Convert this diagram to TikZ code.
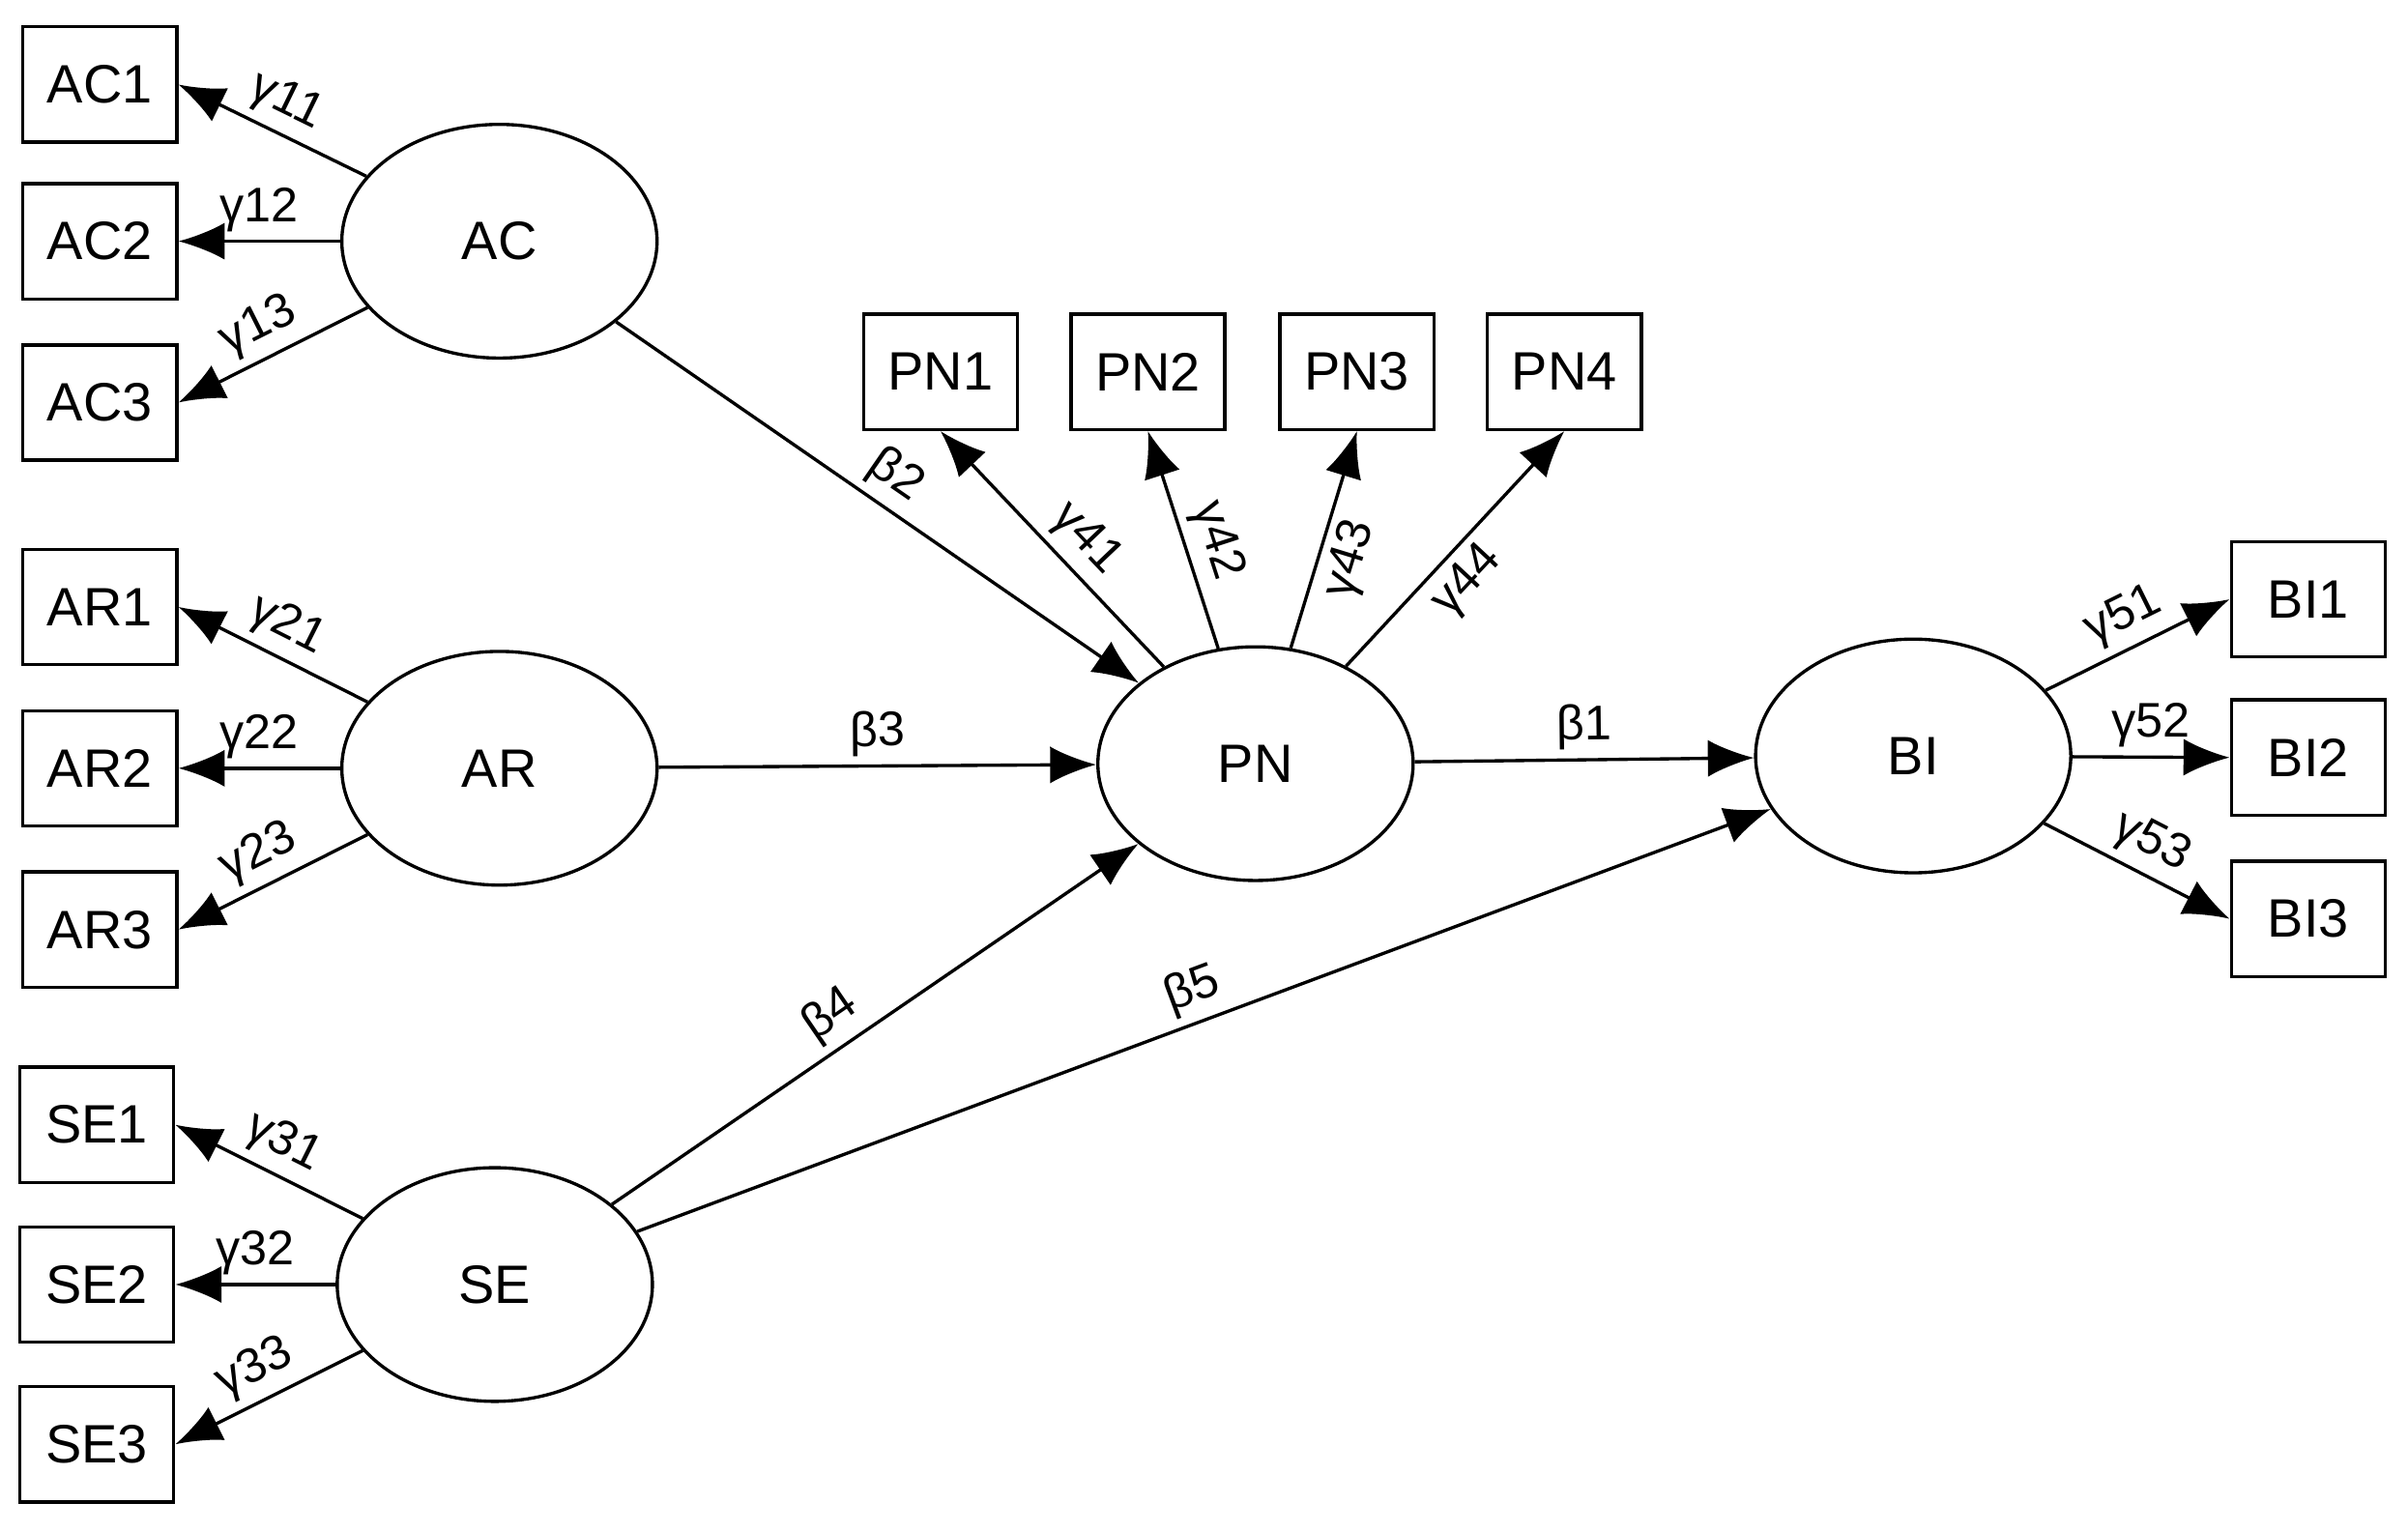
\documentclass[tikz,border=0pt]{standalone}
\usepackage{fontspec}
\setmainfont{Liberation Sans}
\usetikzlibrary{arrows.meta,shapes.geometric}
\begin{document}
\begin{tikzpicture}[x=0.01cm,y=-0.01cm,
  obs/.style={draw,semithick,minimum width=1cm,minimum height=0.75cm,inner sep=0pt,font=\normalsize},
  lat/.style={draw,semithick,ellipse,minimum width=2.05cm,minimum height=1.52cm,inner sep=0pt,font=\normalsize},
  arr/.style={semithick,-{Latex[length=3mm,width=2.4mm]}},
  lbl/.style={font=\small,sloped,inner sep=1.5pt}]
  \useasboundingbox (0,0) rectangle (1567,997);
  % latent variables
  \node[lat] (AC) at (325,157) {AC};
  \node[lat] (AR) at (325,500) {AR};
  \node[lat] (SE) at (322,836) {SE};
  \node[lat] (PN) at (817,497) {PN};
  \node[lat] (BI) at (1245,492) {BI};
  % indicators
  \foreach \n/\y in {1/55,2/157,3/262} \node[obs] (AC\n) at (65,\y) {AC\n};
  \foreach \n/\y in {1/395,2/500,3/605} \node[obs] (AR\n) at (65,\y) {AR\n};
  \foreach \n/\y in {1/732,2/836,3/940} \node[obs] (SE\n) at (63,\y) {SE\n};
  \foreach \n/\x in {1/612,2/747,3/883,4/1018} \node[obs] (PN\n) at (\x,242) {PN\n};
  \foreach \n/\y in {1/390,2/493,3/598} \node[obs] (BI\n) at (1502,\y) {BI\n};
  % loadings
  \foreach \v/\k in {AC/1,AR/2,SE/3} {
    \draw[arr] (\v) -- (\v1.east) node[lbl,pos=0.5,above] {γ\k1};
    \draw[arr] (\v) -- (\v2.east) node[lbl,pos=0.5,above] {γ\k2};
    \draw[arr] (\v) -- (\v3.east) node[lbl,pos=0.5,above] {γ\k3};
  }
  \draw[arr] (PN) -- (PN1.south) node[lbl,pos=0.45,above] {γ41};
  \draw[arr] (PN) -- (PN2.south) node[lbl,pos=0.45,above] {γ42};
  \draw[arr] (PN) -- (PN3.south) node[lbl,pos=0.45,below] {γ43};
  \draw[arr] (PN) -- (PN4.south) node[lbl,pos=0.45,below] {γ44};
  \draw[arr] (BI) -- (BI1.west) node[lbl,pos=0.5,above] {γ51};
  \draw[arr] (BI) -- (BI2.west) node[lbl,pos=0.5,above] {γ52};
  \draw[arr] (BI) -- (BI3.west) node[lbl,pos=0.5,above] {γ53};
  % structural paths
  \draw[arr] (PN) -- (BI) node[lbl,midway,above] {β1};
  \draw[arr] (AC) -- (PN) node[lbl,pos=0.5,above] {β2};
  \draw[arr] (AR) -- (PN) node[lbl,midway,above] {β3};
  \draw[arr] (SE) -- (PN) node[lbl,pos=0.45,above] {β4};
  \draw[arr] (SE) -- (BI) node[lbl,pos=0.5,above] {β5};
\end{tikzpicture}
\end{document}
